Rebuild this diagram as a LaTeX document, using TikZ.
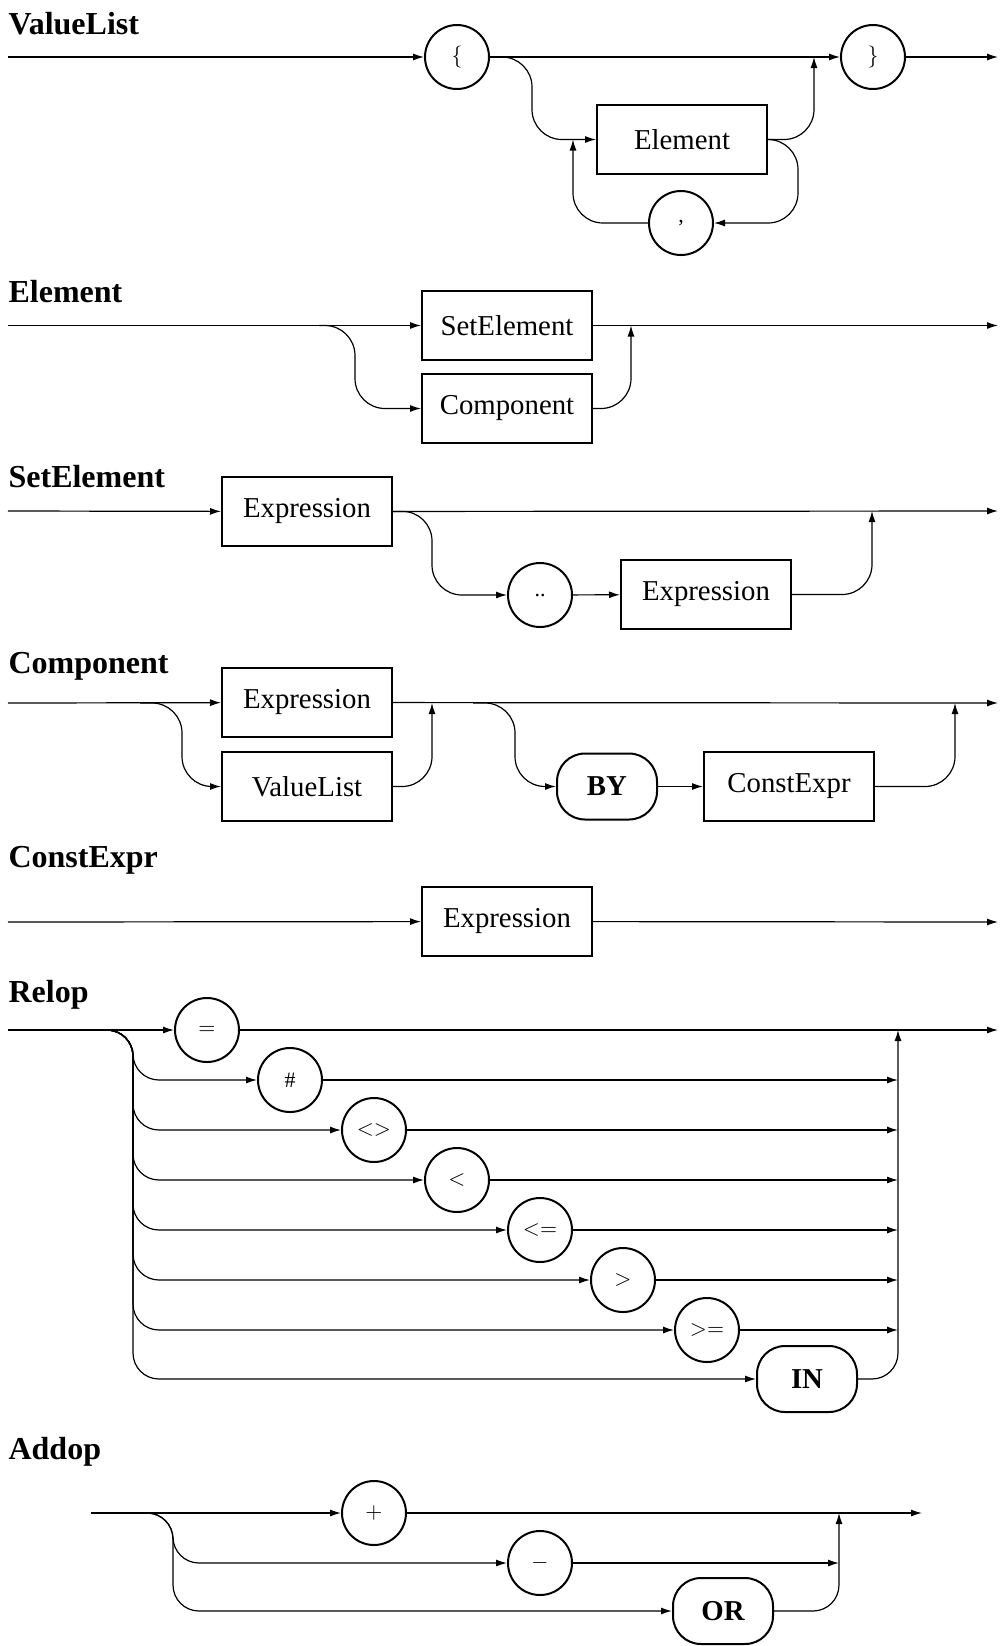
\documentclass[tikz,border=0pt]{standalone}
\usepackage{fontspec}
\setmainfont{Liberation Serif}
\usetikzlibrary{arrows.meta}

\begin{document}
\begin{tikzpicture}[x=0.5pt,y=-0.5pt,line width=0.6pt,
	rulename/.style={anchor=base west,inner sep=0pt,font=\fontsize{16}{19}\selectfont\bfseries},
	nt/.style={draw,line width=1pt,minimum width=85pt,minimum height=34.5pt,inner sep=0pt,font=\fontsize{14.4}{17}\selectfont},
	tm/.style={draw,circle,line width=1pt,minimum size=32pt,inner sep=0pt,font=\fontsize{11}{13}\selectfont},
	kw/.style={draw,rounded corners=14pt,line width=1pt,minimum width=50pt,minimum height=33pt,inner sep=0pt,font=\fontsize{14.4}{17}\selectfont\bfseries},
	ar/.style={-{Latex[length=5.5pt,width=3.5pt]}},
	br/.style={ar,rounded corners=15pt},
	brs/.style={ar,rounded corners=13pt}]
	\useasboundingbox (0,0) rectangle (1000,1646);

	% ValueList
	\node[rulename] (vl) at (8,34) {ValueList};
	\coordinate (vl-in) at (8,57);
	\coordinate (vl-out) at (998,57);
	\coordinate (vl-j) at (814,57);
	\coordinate (vl-k) at (573,139.5);
	\node[tm] (vl-lb) at (457,57) {$\{$};
	\node[tm] (vl-rb) at (873,57) {$\}$};
	\node[nt] (vl-el) at (682,139.5) {Element};
	\node[tm] (vl-cm) at (681,223) {,};
	\draw[ar] (vl-in) -- (vl-lb);
	\draw[ar] (vl-lb) -- (vl-rb);
	\draw[ar] (vl-rb) -- (vl-out);
	\draw[br] (vl-lb.east) -- (532,57) |- (vl-el.west);
	\draw[br] (vl-el.east) -| (vl-j);
	\draw[br] (vl-el.east) -- (798,139.5) |- (vl-cm.east);
	\draw[br] (vl-cm.west) -| (vl-k);

	% Element
	\node[rulename] (el) at (8,302) {Element};
	\coordinate (el-in) at (8,325.5);
	\coordinate (el-out) at (998,325.5);
	\coordinate (el-b) at (319,325.5);
	\coordinate (el-j) at (631,325.5);
	\node[nt] (el-se) at (507,325.5) {SetElement};
	\node[nt] (el-co) at (507,408.5) {Component};
	\draw[ar] (el-in) -- (el-se);
	\draw[ar] (el-se) -- (el-out);
	\draw[br] (el-b) -- (355,325.5) |- (el-co.west);
	\draw[br] (el-co.east) -| (el-j);

	% SetElement
	\node[rulename] (se) at (8,487) {SetElement};
	\coordinate (se-in) at (8,511);
	\coordinate (se-out) at (998,511);
	\coordinate (se-j) at (872,511);
	\node[nt] (se-ex) at (307,511.5) {Expression};
	\node[tm] (se-dd) at (540,595) {..};
	\node[nt] (se-ex2) at (706,594.5) {Expression};
	\draw[ar] (se-in) -- (se-ex);
	\draw[ar] (se-ex) -- (se-out);
	\draw[br] (se-ex.east) -- (432,511) |- (se-dd.west);
	\draw[ar] (se-dd) -- (se-ex2);
	\draw[br] (se-ex2.east) -| (se-j);

	% Component
	\node[rulename] (co) at (8,673) {Component};
	\coordinate (co-in) at (8,703);
	\coordinate (co-out) at (998,703);
	\coordinate (co-b1) at (140,703);
	\coordinate (co-j1) at (432,703);
	\coordinate (co-b2) at (473,703);
	\coordinate (co-j2) at (955,703);
	\node[nt] (co-ex) at (307,702.5) {Expression};
	\node[nt] (co-vl) at (307,786.5) {ValueList};
	\node[kw] (co-by) at (607,786.5) {BY};
	\node[nt] (co-ce) at (789,786.5) {ConstExpr};
	\draw[ar] (co-in) -- (co-ex);
	\draw[ar] (co-ex) -- (co-out);
	\draw[br] (co-b1) -- (182,703) |- (co-vl.west);
	\draw[br] (co-vl.east) -| (co-j1);
	\draw[br] (co-b2) -- (515,703) |- (co-by.west);
	\draw[ar] (co-by) -- (co-ce);
	\draw[br] (co-ce.east) -| (co-j2);

	% ConstExpr
	\node[rulename] (ce) at (8,867) {ConstExpr};
	\coordinate (ce-in) at (8,922);
	\coordinate (ce-out) at (998,922);
	\node[nt] (ce-ex) at (507,921.5) {Expression};
	\draw[ar] (ce-in) -- (ce-ex);
	\draw[ar] (ce-ex) -- (ce-out);

	% Relop
	\node[rulename] (rl) at (8,1002) {Relop};
	\coordinate (rl-in) at (8,1030);
	\coordinate (rl-out) at (998,1030);
	\coordinate (rl-b) at (105,1030);
	\coordinate (rl-j) at (898,1030);
	\node[tm] (rl-eq) at (207,1030) {$=$};
	\node[tm] (rl-hash) at (290,1080) {\#};
	\node[tm] (rl-ne) at (374,1130) {$<>$};
	\node[tm] (rl-lt) at (457,1180) {$<$};
	\node[tm] (rl-le) at (540,1230) {$<=$};
	\node[tm] (rl-gt) at (623,1280) {$>$};
	\node[tm] (rl-ge) at (707,1330) {$>=$};
	\node[kw] (rl-kw) at (807,1379) {IN};
	\draw[ar] (rl-in) -- (rl-eq);
	\draw[ar] (rl-eq) -- (rl-out);
	\foreach \n in {rl-hash,rl-ne,rl-lt,rl-le,rl-gt,rl-ge,rl-kw}
		\draw[brs] (rl-b) -- (133,1030) |- (\n.west);
	\foreach \n in {rl-hash,rl-ne,rl-lt,rl-le,rl-gt,rl-ge}
		\draw[ar] (\n) -- (\n -| rl-j);
	\draw[brs] (rl-kw.east) -| (rl-j);

	% Addop
	\node[rulename] (ad) at (8,1459) {Addop};
	\coordinate (ad-in) at (91,1513);
	\coordinate (ad-out) at (922,1513);
	\coordinate (ad-b) at (145,1513);
	\coordinate (ad-j) at (839,1513);
	\node[tm] (ad-pl) at (374,1513) {$+$};
	\node[tm] (ad-mi) at (540,1563) {$-$};
	\node[kw] (ad-or) at (723,1611) {OR};
	\draw[ar] (ad-in) -- (ad-pl);
	\draw[ar] (ad-pl) -- (ad-out);
	\foreach \n in {ad-mi,ad-or}
		\draw[brs] (ad-b) -- (173,1513) |- (\n.west);
	\draw[ar] (ad-mi) -- (ad-mi -| ad-j);
	\draw[brs] (ad-or.east) -| (ad-j);
\end{tikzpicture}
\end{document}
